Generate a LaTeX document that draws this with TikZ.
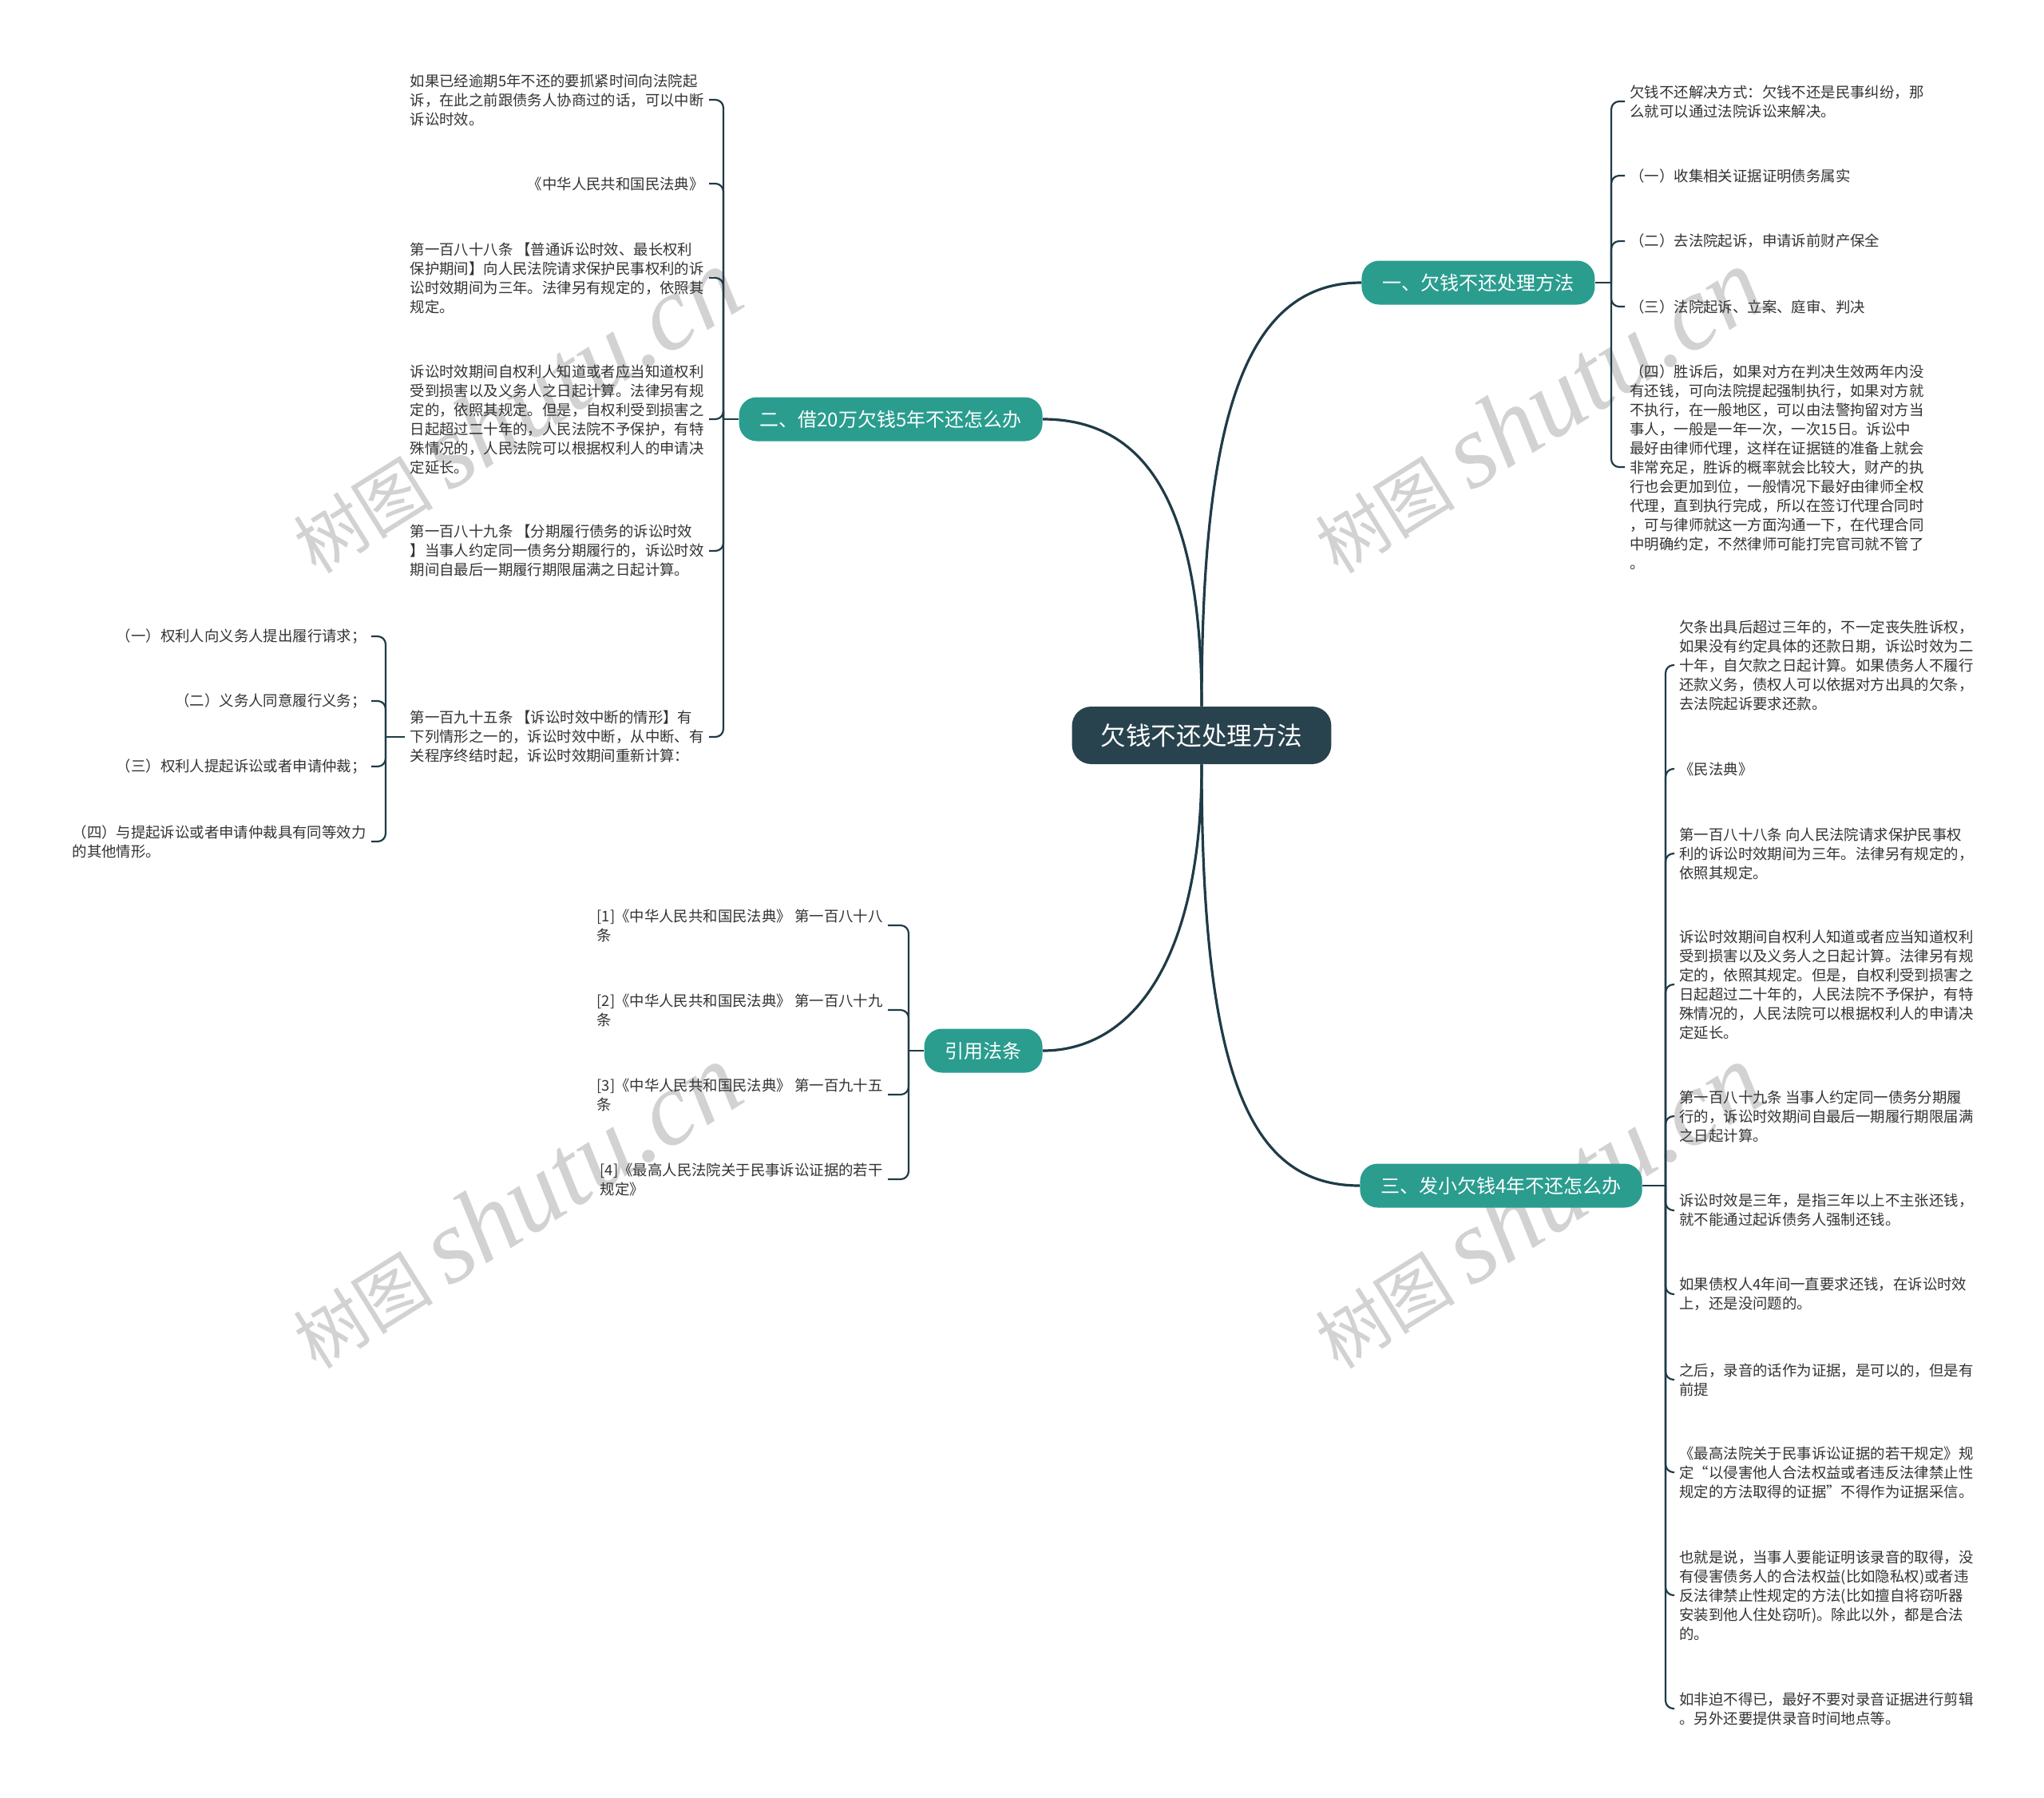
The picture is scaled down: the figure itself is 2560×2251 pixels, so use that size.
\documentclass[tikz,border=0pt]{standalone}
\usepackage{fontspec}
\setmainfont{Noto Sans CJK SC}
\newfontfamily\wmlatin{Liberation Serif}
\usepackage{tikz}
\usetikzlibrary{calc}
\definecolor{RootSlate}{HTML}{29434E}
\definecolor{TopicTeal}{HTML}{2A9D8F}
\definecolor{LinkSlate}{HTML}{1F3B47}
\definecolor{LeafGray}{HTML}{333333}

\begin{document}
\begin{tikzpicture}[
  x=0.5pt,y=-0.5pt,
  root/.style={fill=RootSlate,rounded corners=12pt,text=white,font=\fontsize{15.8}{18}\selectfont,inner xsep=18pt,minimum height=36pt},
  topic/.style={fill=TopicTeal,rounded corners=11pt,text=white,font=\fontsize{12}{14}\selectfont,inner xsep=13pt,minimum height=27.5pt},
  leaf/.style={align=left,text=LeafGray,font=\fontsize{9.2}{12}\selectfont,inner xsep=3pt,inner ysep=1pt},
  link/.style={draw=LinkSlate,line width=1.6pt},
  twig/.style={draw=LinkSlate,line width=1.1pt,rounded corners=5pt},
  wmark/.style={text=gray!35,rotate=32,inner sep=0pt}
]
\path[fill=white,use as bounding box] (0,0) rectangle (2560,2251);

% watermarks
\node[wmark] (wm1) at (645,515) {\fontsize{44}{44}\selectfont 树图 \wmlatin\itshape\fontsize{66}{66}\selectfont shutu.cn};
\node[wmark] (wm2) at (1925,515) {\fontsize{44}{44}\selectfont 树图 \wmlatin\itshape\fontsize{66}{66}\selectfont shutu.cn};
\node[wmark] (wm3) at (645,1511) {\fontsize{44}{44}\selectfont 树图 \wmlatin\itshape\fontsize{66}{66}\selectfont shutu.cn};
\node[wmark] (wm4) at (1925,1511) {\fontsize{44}{44}\selectfont 树图 \wmlatin\itshape\fontsize{66}{66}\selectfont shutu.cn};

% centre and main topics
\node[root] (root) at (1505,921) {欠钱不还处理方法};
\node[topic,anchor=west] (b1) at (1705,354) {一、欠钱不还处理方法};
\node[topic,anchor=east] (b2) at (1306,525) {二、借20万欠钱5年不还怎么办};
\node[topic,anchor=east] (law) at (1306,1316) {引用法条};
\node[topic,anchor=west] (b3) at (1703,1485) {三、发小欠钱4年不还怎么办};

\draw[link] (root.north) .. controls (1505,520) and (1560,354) .. (b1.west);
\draw[link] (root.north) .. controls (1505,640) and (1440,525) .. (b2.east);
\draw[link] (root.south) .. controls (1505,1200) and (1420,1316) .. (law.east);
\draw[link] (root.south) .. controls (1505,1360) and (1570,1485) .. (b3.west);

% topic one
\node[leaf,anchor=west] (c1a) at (2035,127) {欠钱不还解决方式：欠钱不还是民事纠纷，那\\么就可以通过法院诉讼来解决。};
\node[leaf,anchor=west] (c1b) at (2035,220) {（一）收集相关证据证明债务属实};
\node[leaf,anchor=west] (c1c) at (2035,302) {（二）去法院起诉，申请诉前财产保全};
\node[leaf,anchor=west] (c1d) at (2035,384) {（三）法院起诉、立案、庭审、判决};
\node[leaf,anchor=west] (c1e) at (2035,585) {（四）胜诉后，如果对方在判决生效两年内没\\有还钱，可向法院提起强制执行，如果对方就\\不执行，在一般地区，可以由法警拘留对方当\\事人，一般是一年一次，一次15日。诉讼中\\最好由律师代理，这样在证据链的准备上就会\\非常充足，胜诉的概率就会比较大，财产的执\\行也会更加到位，一般情况下最好由律师全权\\代理，直到执行完成，所以在签订代理合同时\\，可与律师就这一方面沟通一下，在代理合同\\中明确约定，不然律师可能打完官司就不管了\\。};
\coordinate (s1) at (2018,354);
\draw[twig] (b1.east) -- (s1);
\draw[twig] (s1) |- (c1a.west);
\draw[twig] (s1) |- (c1b.west);
\draw[twig] (s1) |- (c1c.west);
\draw[twig] (s1) |- (c1d.west);
\draw[twig] (s1) |- (c1e.west);

% topic two
\node[leaf,anchor=east] (c2a) at (888,125) {如果已经逾期5年不还的要抓紧时间向法院起\\诉，在此之前跟债务人协商过的话，可以中断\\诉讼时效。};
\node[leaf,anchor=east] (c2b) at (888,230) {《中华人民共和国民法典》};
\node[leaf,anchor=east] (c2c) at (888,348) {第一百八十八条 【普通诉讼时效、最长权利\\保护期间】向人民法院请求保护民事权利的诉\\讼时效期间为三年。法律另有规定的，依照其\\规定。};
\node[leaf,anchor=east] (c2d) at (888,525) {诉讼时效期间自权利人知道或者应当知道权利\\受到损害以及义务人之日起计算。法律另有规\\定的，依照其规定。但是，自权利受到损害之\\日起超过二十年的，人民法院不予保护，有特\\殊情况的，人民法院可以根据权利人的申请决\\定延长。};
\node[leaf,anchor=east] (c2e) at (888,690) {第一百八十九条 【分期履行债务的诉讼时效\\】当事人约定同一债务分期履行的，诉讼时效\\期间自最后一期履行期限届满之日起计算。};
\node[leaf,anchor=east] (c2f) at (888,923) {第一百九十五条 【诉讼时效中断的情形】有\\下列情形之一的，诉讼时效中断，从中断、有\\关程序终结时起，诉讼时效期间重新计算：};
\coordinate (s2) at (906,525);
\draw[twig] (b2.west) -- (s2);
\draw[twig] (s2) |- (c2a.east);
\draw[twig] (s2) |- (c2b.east);
\draw[twig] (s2) |- (c2c.east);
\draw[twig] (s2) |- (c2d.east);
\draw[twig] (s2) |- (c2e.east);
\draw[twig] (s2) |- (c2f.east);

\node[leaf,anchor=east] (g1) at (465,797) {（一）权利人向义务人提出履行请求；};
\node[leaf,anchor=east] (g2) at (465,878) {（二）义务人同意履行义务；};
\node[leaf,anchor=east] (g3) at (465,960) {（三）权利人提起诉讼或者申请仲裁；};
\node[leaf,anchor=east] (g4) at (465,1054) {（四）与提起诉讼或者申请仲裁具有同等效力\\的其他情形。};
\coordinate (s2f) at (483,923);
\draw[twig] (c2f.west) -- (s2f);
\draw[twig] (s2f) |- (g1.east);
\draw[twig] (s2f) |- (g2.east);
\draw[twig] (s2f) |- (g3.east);
\draw[twig] (s2f) |- (g4.east);

% cited articles
\node[leaf,anchor=east] (r1) at (1112,1159) {[1]《中华人民共和国民法典》 第一百八十八\\条};
\node[leaf,anchor=east] (r2) at (1112,1265) {[2]《中华人民共和国民法典》 第一百八十九\\条};
\node[leaf,anchor=east] (r3) at (1112,1371) {[3]《中华人民共和国民法典》 第一百九十五\\条};
\node[leaf,anchor=east] (r4) at (1112,1477) {[4]《最高人民法院关于民事诉讼证据的若干\\规定》};
\coordinate (sl) at (1138,1316);
\draw[twig] (law.west) -- (sl);
\draw[twig] (sl) |- (r1.east);
\draw[twig] (sl) |- (r2.east);
\draw[twig] (sl) |- (r3.east);
\draw[twig] (sl) |- (r4.east);

% topic three
\node[leaf,anchor=west] (c3a) at (2097,833) {欠条出具后超过三年的，不一定丧失胜诉权，\\如果没有约定具体的还款日期，诉讼时效为二\\十年，自欠款之日起计算。如果债务人不履行\\还款义务，债权人可以依据对方出具的欠条，\\去法院起诉要求还款。};
\node[leaf,anchor=west] (c3b) at (2097,963) {《民法典》};
\node[leaf,anchor=west] (c3c) at (2097,1069) {第一百八十八条 向人民法院请求保护民事权\\利的诉讼时效期间为三年。法律另有规定的，\\依照其规定。};
\node[leaf,anchor=west] (c3d) at (2097,1233) {诉讼时效期间自权利人知道或者应当知道权利\\受到损害以及义务人之日起计算。法律另有规\\定的，依照其规定。但是，自权利受到损害之\\日起超过二十年的，人民法院不予保护，有特\\殊情况的，人民法院可以根据权利人的申请决\\定延长。};
\node[leaf,anchor=west] (c3e) at (2097,1398) {第一百八十九条 当事人约定同一债务分期履\\行的，诉讼时效期间自最后一期履行期限届满\\之日起计算。};
\node[leaf,anchor=west] (c3f) at (2097,1516) {诉讼时效是三年，是指三年以上不主张还钱，\\就不能通过起诉债务人强制还钱。};
\node[leaf,anchor=west] (c3g) at (2097,1621) {如果债权人4年间一直要求还钱，在诉讼时效\\上，还是没问题的。};
\node[leaf,anchor=west] (c3h) at (2097,1728) {之后，录音的话作为证据，是可以的，但是有\\前提};
\node[leaf,anchor=west] (c3i) at (2097,1844) {《最高法院关于民事诉讼证据的若干规定》规\\定“以侵害他人合法权益或者违反法律禁止性\\规定的方法取得的证据”不得作为证据采信。};
\node[leaf,anchor=west] (c3j) at (2097,1998) {也就是说，当事人要能证明该录音的取得，没\\有侵害债务人的合法权益(比如隐私权)或者违\\反法律禁止性规定的方法(比如擅自将窃听器\\安装到他人住处窃听)。除此以外，都是合法\\的。};
\node[leaf,anchor=west] (c3k) at (2097,2140) {如非迫不得已，最好不要对录音证据进行剪辑\\。另外还要提供录音时间地点等。};
\coordinate (s3) at (2086,1485);
\draw[twig] (b3.east) -- (s3);
\draw[twig] (s3) |- (c3a.west);
\draw[twig] (s3) |- (c3b.west);
\draw[twig] (s3) |- (c3c.west);
\draw[twig] (s3) |- (c3d.west);
\draw[twig] (s3) |- (c3e.west);
\draw[twig] (s3) |- (c3f.west);
\draw[twig] (s3) |- (c3g.west);
\draw[twig] (s3) |- (c3h.west);
\draw[twig] (s3) |- (c3i.west);
\draw[twig] (s3) |- (c3j.west);
\draw[twig] (s3) |- (c3k.west);
\end{tikzpicture}
\end{document}
